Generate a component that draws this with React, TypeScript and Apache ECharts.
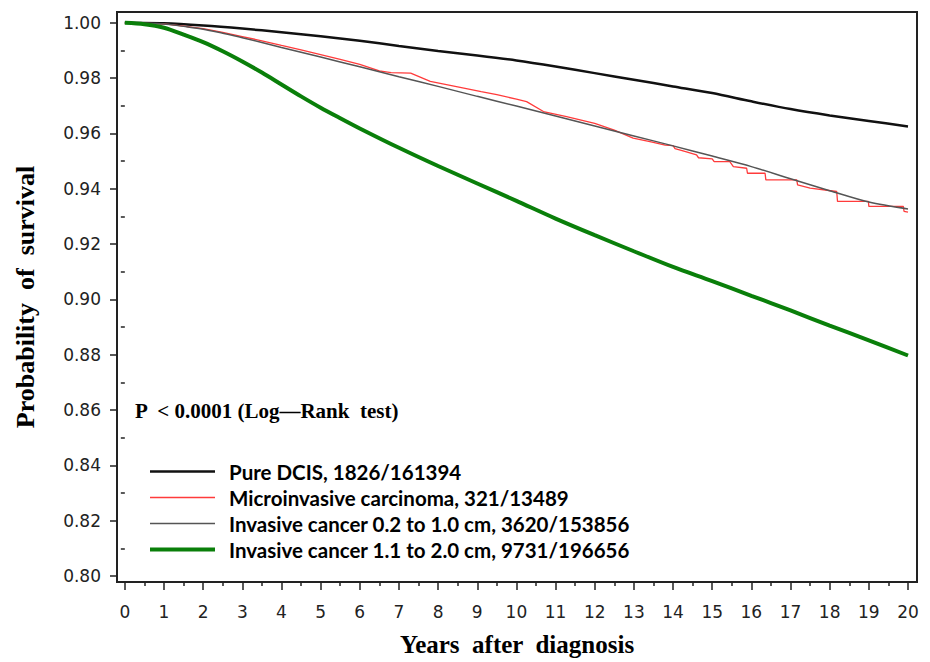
import React, { useEffect, useRef } from "react";
import * as echarts from "echarts";

// ---- tick values ----
const xMajorTicks = [0, 1, 2, 3, 4, 5, 6, 7, 8, 9, 10, 11, 12, 13, 14, 15, 16, 17, 18, 19, 20];
const xMinorTicks = [0.5, 1.5, 2.5, 3.5, 4.5, 5.5, 6.5, 7.5, 8.5, 9.5, 10.5, 11.5, 12.5, 13.5, 14.5, 15.5, 16.5, 17.5, 18.5, 19.5];
const yMajorTicks = [0.8, 0.82, 0.84, 0.86, 0.88, 0.9, 0.92, 0.94, 0.96, 0.98, 1.0];
const yMinorTicks = [0.81, 0.83, 0.85, 0.87, 0.89, 0.91, 0.93, 0.95, 0.97, 0.99];

// ---- series names ----
const seriesNames = [
  "Pure DCIS, 1826/161394",
  "Microinvasive carcinoma, 321/13489",
  "Invasive cancer 0.2 to 1.0 cm, 3620/153856",
  "Invasive cancer 1.1 to 2.0 cm, 9731/196656",
];

// ---- Pure DCIS ----
const dcisYears = [0, 1, 2, 3, 4, 5, 6, 7, 8, 9, 10, 11, 12, 13, 14, 15, 16, 17, 18, 19, 20];
const dcisSurv = [1.0, 0.9998, 0.999, 0.9979, 0.9966, 0.9951, 0.9935, 0.9916, 0.9898, 0.9882, 0.9864, 0.9842, 0.9818, 0.9794, 0.977, 0.9746, 0.9716, 0.9688, 0.9665, 0.9645, 0.9625];

// ---- Microinvasive carcinoma (Kaplan-Meier corners) ----
const microYears = [0, 1, 1.5, 2, 2.5, 3, 3.5, 4, 4.5, 5, 5.5, 6, 6.5, 6.8, 7.3, 7.8, 8.5, 9.1, 9.5, 10.0, 10.26, 10.69, 11.28, 12.0, 12.5, 12.98, 13.41, 13.8, 14.0, 14.05, 14.3, 14.6, 14.65, 15.0, 15.05, 15.45, 15.54, 15.88, 15.9, 16.35, 16.37, 17.16, 17.18, 17.5, 18.18, 18.2, 18.99, 19.0, 19.88, 19.9, 20.0];
const microSurv = [1.0, 0.9996, 0.9988, 0.9979, 0.9965, 0.995, 0.9935, 0.9918, 0.9902, 0.9885, 0.9868, 0.985, 0.9826, 0.982, 0.9818, 0.9788, 0.9768, 0.9751, 0.974, 0.9724, 0.9715, 0.9679, 0.9661, 0.9636, 0.9612, 0.9583, 0.957, 0.9558, 0.9556, 0.9545, 0.9535, 0.9522, 0.9512, 0.9508, 0.9498, 0.9498, 0.948, 0.9474, 0.9456, 0.9456, 0.9432, 0.9432, 0.9414, 0.9402, 0.939, 0.9354, 0.9354, 0.9336, 0.9336, 0.9318, 0.9315];

// ---- Invasive 0.2 to 1.0 cm ----
const smallYears = [0, 1, 1.5, 2, 2.5, 3, 4, 5, 6, 7, 8, 9, 10, 11, 12, 13, 14, 15, 16, 17, 18, 19, 20];
const smallSurv = [1.0, 0.9996, 0.9987, 0.9977, 0.9962, 0.9946, 0.9911, 0.9876, 0.9841, 0.9805, 0.977, 0.9734, 0.9699, 0.9663, 0.9627, 0.9591, 0.9555, 0.9518, 0.948, 0.9436, 0.9393, 0.9352, 0.9327];

// ---- Invasive 1.1 to 2.0 cm ----
const largeYears = [0, 0.5, 1, 1.5, 2, 2.5, 3, 3.5, 4, 4.5, 5, 5.5, 6, 7, 8, 9, 10, 11, 12, 13, 14, 15, 16, 17, 18, 19, 20];
const largeSurv = [1.0, 0.9995, 0.9982, 0.9957, 0.993, 0.9897, 0.986, 0.982, 0.9777, 0.9734, 0.9693, 0.9655, 0.9618, 0.9548, 0.9482, 0.9419, 0.9356, 0.9292, 0.9232, 0.9174, 0.9117, 0.9066, 0.9013, 0.896, 0.8905, 0.8852, 0.8797];

const zip = (xs: number[], ys: number[]) => xs.map((x, i) => [x, ys[i]]);

export default function App() {
  const ref = useRef<HTMLDivElement>(null);

  useEffect(() => {
    if (!ref.current) return;
    const chart = echarts.init(ref.current, null, { renderer: "svg" });

    const xMin = -0.2;
    const xMax = 20.23;
    const yMin = 0.7978;
    const yMax = 1.0039;

    const tickFont = { fontFamily: "DejaVu Sans", fontSize: 17, color: "#222" };

    chart.setOption({
      animation: false,
      backgroundColor: "#fff",
      grid: {
        left: 117,
        top: 12,
        width: 800,
        height: 571,
        show: true,
        borderColor: "#222",
        borderWidth: 2,
        backgroundColor: "transparent",
      },
      legend: {
        orient: "vertical",
        left: 148,
        top: 461,
        padding: 0,
        itemWidth: 65,
        itemHeight: 14,
        itemGap: 5,
        selectedMode: false,
        data: seriesNames,
        itemStyle: { color: "transparent", borderColor: "transparent", borderWidth: 0, opacity: 0 },
        lineStyle: { width: "inherit" },
        textStyle: {
          fontFamily: "Lato",
          fontWeight: "bold",
          fontSize: 20.5,
          lineHeight: 20,
          color: "#000",
          padding: [0, 0, 0, 9],
        },
      },
      graphic: [
        {
          type: "text",
          left: 135,
          top: 400,
          style: {
            text: "P  < 0.0001 (Log\u2014Rank  test)",
            fontFamily: "Liberation Serif",
            fontWeight: "bold",
            fontSize: 21,
            fill: "#000",
          },
        },
      ],
      xAxis: [
        {
          type: "value",
          min: xMin,
          max: xMax,
          position: "bottom",
          offset: 0,
          name: "Years  after  diagnosis",
          nameLocation: "middle",
          nameGap: 50,
          nameTextStyle: {
            fontFamily: "Liberation Serif",
            fontWeight: "bold",
            fontSize: 25,
            color: "#000",
          },
          axisLine: { show: true, onZero: false, lineStyle: { color: "#222", width: 2 } },
          axisTick: {
            show: true,
            customValues: xMajorTicks,
            length: 8,
            lineStyle: { color: "#222", width: 1.5 },
          },
          axisLabel: {
            customValues: xMajorTicks,
            margin: 21,
            formatter: (v: number) => String(Math.round(v)),
            ...tickFont,
          },
          splitLine: { show: false },
        },
        {
          type: "value",
          min: xMin,
          max: xMax,
          position: "bottom",
          offset: 0,
          axisLine: { show: false },
          axisTick: {
            show: true,
            customValues: xMinorTicks,
            length: 4,
            lineStyle: { color: "#222", width: 1.5 },
          },
          axisLabel: { show: false },
          splitLine: { show: false },
        },
      ],
      yAxis: [
        {
          type: "value",
          min: yMin,
          max: yMax,
          position: "left",
          offset: 0,
          name: "Probability  of  survival",
          nameLocation: "middle",
          nameGap: 79,
          nameTextStyle: {
            fontFamily: "Liberation Serif",
            fontWeight: "bold",
            fontSize: 26,
            color: "#000",
          },
          axisLine: { show: true, onZero: false, lineStyle: { color: "#222", width: 2 } },
          axisTick: {
            show: true,
            customValues: yMajorTicks,
            length: 7,
            lineStyle: { color: "#222", width: 1.5 },
          },
          axisLabel: {
            customValues: yMajorTicks,
            margin: 16,
            formatter: (v: number) => v.toFixed(2),
            ...tickFont,
          },
          splitLine: { show: false },
        },
        {
          type: "value",
          min: yMin,
          max: yMax,
          position: "left",
          offset: 0,
          axisLine: { show: false },
          axisTick: {
            show: true,
            customValues: yMinorTicks,
            length: 4,
            lineStyle: { color: "#222", width: 1.5 },
          },
          axisLabel: { show: false },
          splitLine: { show: false },
        },
      ],
      series: [
        {
          name: seriesNames[0],
          type: "line",
          xAxisIndex: 0,
          yAxisIndex: 0,
          data: zip(dcisYears, dcisSurv),
          symbol: "none",
          showSymbol: false,
          smooth: 0.3,
          lineStyle: { color: "#111", width: 2.5 },
          itemStyle: { color: "#111" },
          z: 3,
        },
        {
          name: seriesNames[1],
          type: "line",
          xAxisIndex: 0,
          yAxisIndex: 0,
          data: zip(microYears, microSurv),
          symbol: "none",
          showSymbol: false,
          lineStyle: { color: "#ff3b3b", width: 1.3 },
          itemStyle: { color: "#ff3b3b" },
          z: 3,
        },
        {
          name: seriesNames[2],
          type: "line",
          xAxisIndex: 0,
          yAxisIndex: 0,
          data: zip(smallYears, smallSurv),
          symbol: "none",
          showSymbol: false,
          smooth: 0.3,
          lineStyle: { color: "#555", width: 1.5 },
          itemStyle: { color: "#555" },
          z: 4,
        },
        {
          name: seriesNames[3],
          type: "line",
          xAxisIndex: 0,
          yAxisIndex: 0,
          data: zip(largeYears, largeSurv),
          symbol: "none",
          showSymbol: false,
          smooth: 0.3,
          lineStyle: { color: "#0a7f0a", width: 4 },
          itemStyle: { color: "#0a7f0a" },
          z: 5,
        },
      ],
    });

    return () => chart.dispose();
  }, []);

  return (
    <div
      ref={ref}
      style={{ position: "fixed", left: 0, top: 0, width: 930, height: 662, background: "#fff" }}
    />
  );
}
